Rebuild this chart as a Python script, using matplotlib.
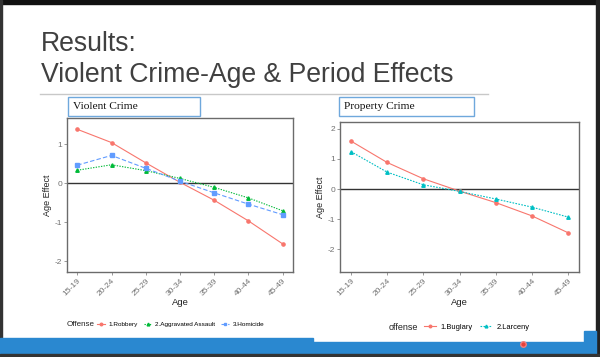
import matplotlib
matplotlib.use("Agg")

import matplotlib.pyplot as plt
from matplotlib.patches import Rectangle
from matplotlib.lines import Line2D

plt.rcParams["font.family"] = ["Liberation Sans", "DejaVu Sans"]

# data
age_groups = ["15-19", "20-24", "25-29", "30-34", "35-39", "40-44", "45-49"]
robbery = [1.38, 1.04, 0.52, 0.02, -0.44, -0.97, -1.56]
assault = [0.33, 0.47, 0.32, 0.12, -0.11, -0.38, -0.71]
homicide = [0.46, 0.71, 0.38, 0.05, -0.25, -0.54, -0.81]
burglary = [1.59, 0.88, 0.34, -0.07, -0.45, -0.89, -1.45]
larceny = [1.24, 0.56, 0.14, -0.08, -0.33, -0.60, -0.93]

violent_ticks = [-2, -1, 0, 1]
property_ticks = [-2, -1, 0, 1, 2]

RED = "#F8766D"
GREEN = "#00BA38"
BLUE = "#619CFF"
CYAN = "#00BFC4"

W, H = 600, 357


def box(x0, y0, x1, y1):
    "pixel box (top-left origin) to figure fraction rect"
    return [x0 / W, 1 - y1 / H, (x1 - x0) / W, (y1 - y0) / H]


def style_panel(ax, yticks, ylim):
    "ggplot theme_bw-ish styling"
    ax.set_xlim(0.7, len(age_groups) + 0.3)
    ax.set_ylim(*ylim)
    ax.set_xticks(range(1, len(age_groups) + 1))
    ax.set_xticklabels(age_groups, rotation=45, ha="right", va="top",
                       rotation_mode="anchor", fontsize=6, color="#707070")
    ax.set_yticks(yticks)
    ax.set_yticklabels([str(t) for t in yticks], fontsize=6, color="#707070")
    ax.tick_params(length=2, width=0.5, color="#707070", pad=1.5)
    for s in ax.spines.values():
        s.set_color("#6b6b6b")
        s.set_linewidth(1.0)
    ax.axhline(0, color="#333333", lw=1.0, zorder=1)
    ax.set_xlabel("Age", fontsize=6.8, labelpad=1, color="#222222")
    ax.set_ylabel("Age Effect", fontsize=6.5, labelpad=2, color="#222222")


fig = plt.figure(figsize=(6, 3.57), dpi=100)

# slide frame
fig.add_artist(Rectangle((0, 1 - 4 / H), 1, 4 / H, transform=fig.transFigure,
                         color="#111111", zorder=0))
fig.add_artist(Rectangle((596 / W, 0), 4 / W, 1, transform=fig.transFigure,
                         color="#222222", zorder=0))
fig.add_artist(Rectangle((0, 0), 1.5 / W, 1, transform=fig.transFigure,
                         color="#333333", zorder=0))

# bottom blue band with its step
fig.add_artist(Rectangle((0, 3 / H), 313 / W, (354 - 338) / H,
                         transform=fig.transFigure, color="#2a88d0", zorder=0))
fig.add_artist(Rectangle((313 / W, 3 / H), (584 - 313) / W, (354 - 342) / H,
                         transform=fig.transFigure, color="#2a88d0", zorder=0))
fig.add_artist(Rectangle((584 / W, 3 / H), (596 - 584) / W, (354 - 331) / H,
                         transform=fig.transFigure, color="#2a88d0", zorder=0))
fig.add_artist(Rectangle((0, 0), 1, 3 / H, transform=fig.transFigure,
                         color="#333333", zorder=0))
fig.add_artist(Line2D([523 / W], [1 - 344 / H], transform=fig.transFigure,
                      marker="o", ms=4, color="#e8403a", mec="#f08080", mew=1))

# slide title
fig.text(41 / W, 1 - 44 / H, "Results:", fontsize=19.2, color="#404040", va="center")
fig.text(41 / W, 1 - 75 / H, "Violent Crime-Age & Period Effects", fontsize=19.2,
         color="#404040", va="center")
fig.add_artist(Line2D([40 / W, 488 / W], [1 - 94 / H, 1 - 94 / H],
                      transform=fig.transFigure, color="#c8c8c8", lw=1))

# panel title boxes
for (x0, x1, label) in [(68, 200, "Violent Crime"), (339, 474, "Property Crime")]:
    fig.add_artist(Rectangle((x0 / W, 1 - 116 / H), (x1 - x0) / W, 19 / H,
                             transform=fig.transFigure, fill=False,
                             ec="#6fa8dc", lw=1))
    fig.text((x0 + 5) / W, 1 - 106.5 / H, label, fontsize=8.2, va="center",
             family="Liberation Serif", color="#111111")

x = list(range(1, len(age_groups) + 1))

# violent crime panel
ax1 = fig.add_axes(box(67, 118, 293, 272))
ax1.plot(x, robbery, color=RED, lw=0.8, marker="o", ms=2.3, label="1.Robbery")
ax1.plot(x, assault, color=GREEN, lw=0.8, ls=(0, (1.2, 1.2)), marker="^", ms=2.5,
         label="2.Aggravated Assault")
ax1.plot(x, homicide, color=BLUE, lw=0.8, ls=(0, (4, 2)), marker="s", ms=2.2,
         label="3.Homicide")
style_panel(ax1, violent_ticks, (-2.28, 1.67))

# property crime panel
ax2 = fig.add_axes(box(340, 122, 579, 272))
ax2.plot(x, burglary, color=RED, lw=0.8, marker="o", ms=2.3, label="1.Buglary")
ax2.plot(x, larceny, color=CYAN, lw=0.8, ls=(0, (1.5, 1.2)), marker="^", ms=2.5,
         label="2.Larceny")
style_panel(ax2, property_ticks, (-2.75, 2.22))

# legends below panels
fig.text(67 / W, 1 - 324 / H, "Offense", fontsize=5.8, va="center", color="#222222")
h1, l1 = ax1.get_legend_handles_labels()
fig.legend(h1, l1, loc="center left", bbox_to_anchor=(97 / W, 1 - 324 / H),
           ncol=3, frameon=False, fontsize=4.6, handlelength=1.3, numpoints=1,
           markerscale=0.8, handletextpad=0.5, columnspacing=0.9,
           borderpad=0, borderaxespad=0)

fig.text(389 / W, 1 - 327 / H, "offense", fontsize=6.5, va="center", color="#222222")
h2, l2 = ax2.get_legend_handles_labels()
fig.legend(h2, l2, loc="center left", bbox_to_anchor=(424 / W, 1 - 327 / H),
           ncol=2, frameon=False, fontsize=5.4, handlelength=1.6, numpoints=1,
           markerscale=0.8, handletextpad=0.6, columnspacing=1.0,
           borderpad=0, borderaxespad=0)

fig.savefig("out.png", dpi=100)
